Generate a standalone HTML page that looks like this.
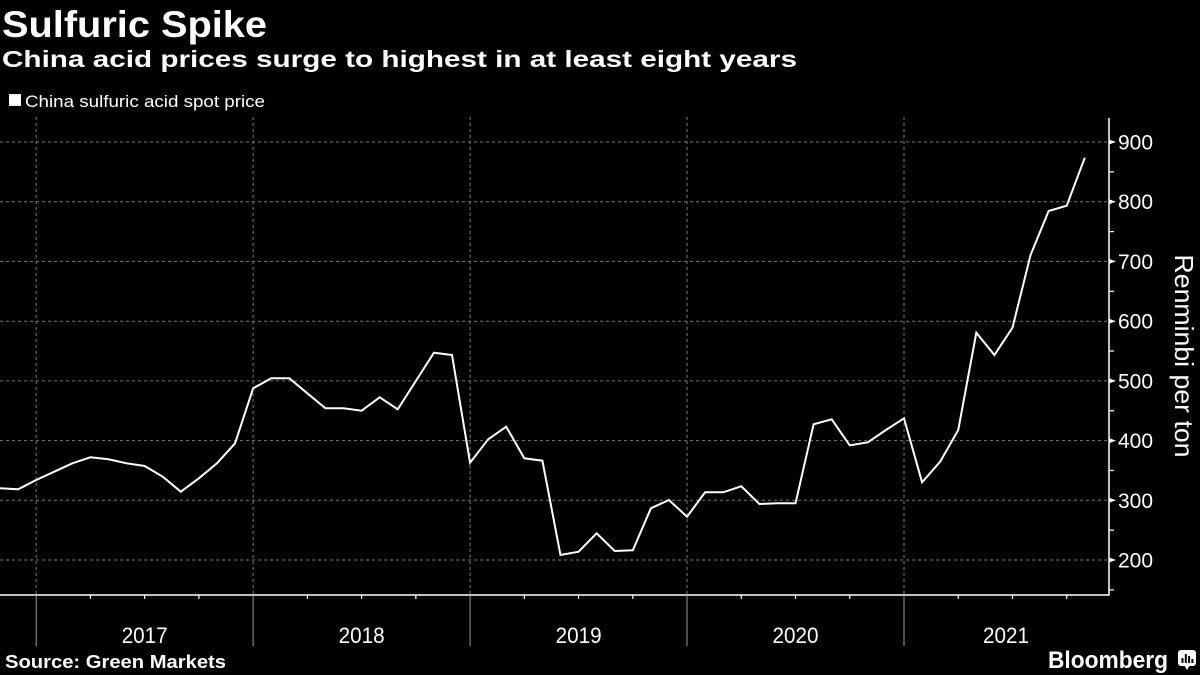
<!DOCTYPE html>
<html>
<head>
<meta charset="utf-8">
<style>
  html, body { margin:0; padding:0; background:#000; }
  body { width:1200px; height:675px; overflow:hidden; }
  svg { display:block; }
  text { font-family: "Liberation Sans", "DejaVu Sans", sans-serif; fill:#fff; }
</style>
</head>
<body>
<svg width="1200" height="675" viewBox="0 0 1200 675" xmlns="http://www.w3.org/2000/svg">
  <rect x="0" y="0" width="1200" height="675" fill="#000"/>

  <!-- Titles -->
  <text x="2" y="37" font-size="37" font-weight="bold" textLength="265" lengthAdjust="spacingAndGlyphs">Sulfuric Spike</text>
  <text x="2" y="67" font-size="23" font-weight="bold" textLength="795" lengthAdjust="spacingAndGlyphs">China acid prices surge to highest in at least eight years</text>

  <!-- Legend -->
  <rect x="9" y="94" width="12" height="12" fill="#fff"/>
  <text x="25" y="107" font-size="17" textLength="240" lengthAdjust="spacingAndGlyphs">China sulfuric acid spot price</text>

  <!-- Horizontal dashed gridlines -->
  <g stroke="#777" stroke-width="1" stroke-dasharray="3,3">
    <line x1="0" y1="142" x2="1108" y2="142"/>
    <line x1="0" y1="201.7" x2="1108" y2="201.7"/>
    <line x1="0" y1="261.4" x2="1108" y2="261.4"/>
    <line x1="0" y1="321.2" x2="1108" y2="321.2"/>
    <line x1="0" y1="380.9" x2="1108" y2="380.9"/>
    <line x1="0" y1="440.6" x2="1108" y2="440.6"/>
    <line x1="0" y1="500.3" x2="1108" y2="500.3"/>
    <line x1="0" y1="560" x2="1108" y2="560"/>
  </g>
  <!-- Vertical dashed gridlines -->
  <g stroke="#777" stroke-width="1" stroke-dasharray="3,3">
    <line x1="36.2" y1="117" x2="36.2" y2="595"/>
    <line x1="253.1" y1="117" x2="253.1" y2="595"/>
    <line x1="470.1" y1="117" x2="470.1" y2="595"/>
    <line x1="687" y1="117" x2="687" y2="595"/>
    <line x1="904" y1="117" x2="904" y2="595"/>
  </g>

  <!-- Data line -->
  <polyline fill="none" stroke="#fff" stroke-width="2" stroke-linejoin="miter"
    points="0,488.3 18.08,489.3 36.16,480 54.24,471.7 72.32,463.3 90.4,457.3 108.48,459.3 126.56,463.3 144.64,466 162.72,476.7 180.8,491.7 198.88,478.3 216.96,463.3 235.04,443.3 253.12,388.3 271.2,378.3 289.28,378.3 307.36,393.3 325.44,408.3 343.52,408.3 361.6,410.7 379.68,397.3 397.76,409.3 415.84,381 433.92,352.7 452,355 470.08,462.7 488.16,439.3 506.24,426.7 524.32,458.3 542.4,460.7 560.48,555 578.56,551.7 596.64,533.3 614.72,551 632.8,550.3 650.88,508.3 668.96,500 687.04,516.7 705.12,492.3 723.2,492.3 741.28,486.3 759.36,504 777.44,503.3 795.52,503.3 813.6,424.3 831.68,419.3 849.76,445.3 867.84,442.3 885.92,430 904,418.3 922.08,482.3 940.16,461.7 958.24,430 976.32,332.7 994.4,355 1012.48,327.7 1030.56,255 1048.64,211 1066.72,205.7 1084.8,157.7"/>

  <!-- Axes -->
  <line x1="0" y1="595" x2="1109.5" y2="595" stroke="#fff" stroke-width="1.5"/>
  <line x1="1109" y1="118" x2="1109" y2="595.5" stroke="#fff" stroke-width="1.5"/>

  <!-- X quarter ticks -->
  <g stroke="#fff" stroke-width="1.2">
    <line x1="90.4" y1="595" x2="90.4" y2="599"/>
    <line x1="144.64" y1="595" x2="144.64" y2="599"/>
    <line x1="198.88" y1="595" x2="198.88" y2="599"/>
    <line x1="307.36" y1="595" x2="307.36" y2="599"/>
    <line x1="361.6" y1="595" x2="361.6" y2="599"/>
    <line x1="415.84" y1="595" x2="415.84" y2="599"/>
    <line x1="524.32" y1="595" x2="524.32" y2="599"/>
    <line x1="578.56" y1="595" x2="578.56" y2="599"/>
    <line x1="632.8" y1="595" x2="632.8" y2="599"/>
    <line x1="741.28" y1="595" x2="741.28" y2="599"/>
    <line x1="795.52" y1="595" x2="795.52" y2="599"/>
    <line x1="849.76" y1="595" x2="849.76" y2="599"/>
    <line x1="958.24" y1="595" x2="958.24" y2="599"/>
    <line x1="1012.48" y1="595" x2="1012.48" y2="599"/>
    <line x1="1066.72" y1="595" x2="1066.72" y2="599"/>
  </g>
  <!-- Year separators -->
  <g stroke="#999" stroke-width="1">
    <line x1="36.2" y1="595" x2="36.2" y2="646"/>
    <line x1="253.1" y1="595" x2="253.1" y2="646"/>
    <line x1="470.1" y1="595" x2="470.1" y2="646"/>
    <line x1="687" y1="595" x2="687" y2="646"/>
    <line x1="904" y1="595" x2="904" y2="646"/>
  </g>
  <!-- Year labels -->
  <g font-size="22" text-anchor="middle">
    <text x="144.7" y="643" textLength="46" lengthAdjust="spacingAndGlyphs">2017</text>
    <text x="361.6" y="643" textLength="46" lengthAdjust="spacingAndGlyphs">2018</text>
    <text x="578.6" y="643" textLength="46" lengthAdjust="spacingAndGlyphs">2019</text>
    <text x="795.5" y="643" textLength="46" lengthAdjust="spacingAndGlyphs">2020</text>
    <text x="1006" y="643" textLength="46" lengthAdjust="spacingAndGlyphs">2021</text>
  </g>

  <!-- Y minor ticks -->
  <g stroke="#fff" stroke-width="1.2">
    <line x1="1109" y1="171.9" x2="1114" y2="171.9"/>
    <line x1="1109" y1="231.6" x2="1114" y2="231.6"/>
    <line x1="1109" y1="291.3" x2="1114" y2="291.3"/>
    <line x1="1109" y1="351" x2="1114" y2="351"/>
    <line x1="1109" y1="410.8" x2="1114" y2="410.8"/>
    <line x1="1109" y1="470.5" x2="1114" y2="470.5"/>
    <line x1="1109" y1="530.2" x2="1114" y2="530.2"/>
    <line x1="1109" y1="589.9" x2="1114" y2="589.9"/>
  </g>
  <!-- Y major tick markers -->
  <g fill="#fff">
    <polygon points="1109,139.5 1116,142 1109,144.5"/>
    <polygon points="1109,199.2 1116,201.7 1109,204.2"/>
    <polygon points="1109,258.9 1116,261.4 1109,263.9"/>
    <polygon points="1109,318.7 1116,321.2 1109,323.7"/>
    <polygon points="1109,378.4 1116,380.9 1109,383.4"/>
    <polygon points="1109,438.1 1116,440.6 1109,443.1"/>
    <polygon points="1109,497.8 1116,500.3 1109,502.8"/>
    <polygon points="1109,557.5 1116,560 1109,562.5"/>
  </g>
  <!-- Y tick labels -->
  <g font-size="21">
    <text x="1118" y="149.5" textLength="35" lengthAdjust="spacingAndGlyphs">900</text>
    <text x="1118" y="209.2" textLength="35" lengthAdjust="spacingAndGlyphs">800</text>
    <text x="1118" y="268.9" textLength="35" lengthAdjust="spacingAndGlyphs">700</text>
    <text x="1118" y="328.7" textLength="35" lengthAdjust="spacingAndGlyphs">600</text>
    <text x="1118" y="388.4" textLength="35" lengthAdjust="spacingAndGlyphs">500</text>
    <text x="1118" y="448.1" textLength="35" lengthAdjust="spacingAndGlyphs">400</text>
    <text x="1118" y="507.8" textLength="35" lengthAdjust="spacingAndGlyphs">300</text>
    <text x="1118" y="567.5" textLength="35" lengthAdjust="spacingAndGlyphs">200</text>
  </g>

  <!-- Y axis title -->
  <text transform="translate(1175,356) rotate(90)" font-size="26" text-anchor="middle" textLength="203" lengthAdjust="spacingAndGlyphs">Renminbi per ton</text>

  <!-- Footer -->
  <text x="5" y="668" font-size="18" font-weight="bold" textLength="221" lengthAdjust="spacingAndGlyphs">Source: Green Markets</text>
  <text x="1048" y="668" font-size="24" font-weight="bold" textLength="120" lengthAdjust="spacingAndGlyphs">Bloomberg</text>
  <!-- Bloomberg icon -->
  <g>
    <rect x="1178" y="650" width="18" height="16" rx="3" fill="#fff"/>
    <polygon points="1184,665 1190,665 1187,670" fill="#fff"/>
    <rect x="1181.5" y="658" width="2" height="5" fill="#000"/>
    <rect x="1184.8" y="654" width="2" height="9" fill="#000"/>
    <rect x="1188.1" y="656" width="2" height="7" fill="#000"/>
    <rect x="1191.4" y="659" width="2" height="4" fill="#000"/>
  </g>
</svg>
</body>
</html>
